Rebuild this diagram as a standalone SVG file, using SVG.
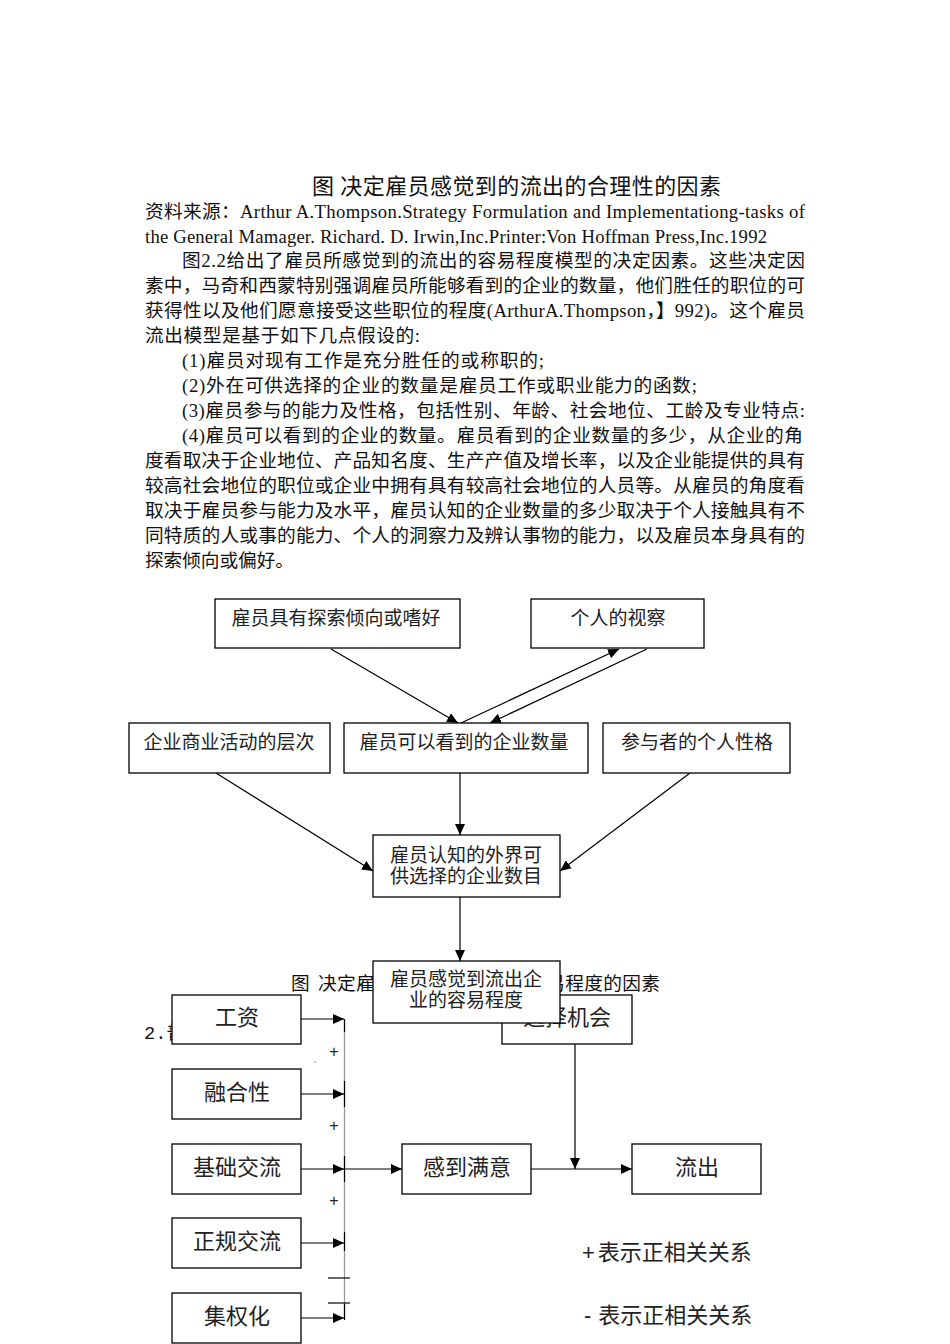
<svg xmlns="http://www.w3.org/2000/svg" width="950" height="1344" viewBox="0 0 950 1344">
<style>
.t{font-family:"Liberation Serif","Noto Sans CJK SC",serif;font-size:18.7px;fill:#111}
.title{font-family:"Liberation Serif","Noto Sans CJK SC",serif;font-size:22px;fill:#111}
.box{fill:#fff;stroke:#000;stroke-width:1.3}
.bt{font-family:"Liberation Sans","Noto Sans CJK SC",sans-serif;font-size:19px;fill:#222;text-anchor:middle}
.bt2{font-family:"Liberation Sans","Noto Sans CJK SC",sans-serif;font-size:22px;fill:#222;text-anchor:middle}
.ln{stroke:#000;stroke-width:1.2;fill:none}
.arr{marker-end:url(#ah)}
.sign{font-family:"Liberation Sans",sans-serif;font-size:16px;fill:#222;text-anchor:middle}
.leg{font-family:"Liberation Sans","Noto Sans CJK SC",sans-serif;font-size:22px;fill:#222}
</style>
<defs>
<marker id="ah" markerUnits="userSpaceOnUse" markerWidth="12" markerHeight="10" refX="11" refY="5" orient="auto">
<path d="M0,0 L11,5 L0,10 Z" fill="#000"/>
</marker>
</defs>
<rect width="950" height="1344" fill="#fff"/>

<g id="text-block">
<text class="title" x="312" y="194" textLength="409" lengthAdjust="spacing">图 决定雇员感觉到的流出的合理性的因素</text>
<text class="t" x="145" y="218" textLength="660" lengthAdjust="spacing">资料来源：Arthur A.Thompson.Strategy Formulation and Implementationg-tasks of</text>
<text class="t" x="145" y="243" textLength="622" lengthAdjust="spacing">the General Mamager. Richard. D. Irwin,Inc.Printer:Von Hoffman Press,Inc.1992</text>
<text class="t" x="182" y="267" textLength="623" lengthAdjust="spacing">图2.2给出了雇员所感觉到的流出的容易程度模型的决定因素。这些决定因</text>
<text class="t" x="145" y="292" textLength="660" lengthAdjust="spacing">素中，马奇和西蒙特别强调雇员所能够看到的企业的数量，他们胜任的职位的可</text>
<text class="t" x="145" y="317" textLength="660" lengthAdjust="spacing">获得性以及他们愿意接受这些职位的程度(ArthurA.Thompson，】992)。这个雇员</text>
<text class="t" x="145" y="342" textLength="275" lengthAdjust="spacing">流出模型是基于如下几点假设的:</text>
<text class="t" x="182" y="367" textLength="362" lengthAdjust="spacing">(1)雇员对现有工作是充分胜任的或称职的;</text>
<text class="t" x="182" y="392" textLength="515" lengthAdjust="spacing">(2)外在可供选择的企业的数量是雇员工作或职业能力的函数;</text>
<text class="t" x="182" y="417" textLength="623" lengthAdjust="spacing">(3)雇员参与的能力及性格，包括性别、年龄、社会地位、工龄及专业特点:</text>
<text class="t" x="182" y="442" textLength="621" lengthAdjust="spacing">(4)雇员可以看到的企业的数量。雇员看到的企业数量的多少，从企业的角</text>
<text class="t" x="145" y="467" textLength="660" lengthAdjust="spacing">度看取决于企业地位、产品知名度、生产产值及增长率，以及企业能提供的具有</text>
<text class="t" x="145" y="492" textLength="660" lengthAdjust="spacing">较高社会地位的职位或企业中拥有具有较高社会地位的人员等。从雇员的角度看</text>
<text class="t" x="145" y="517" textLength="660" lengthAdjust="spacing">取决于雇员参与能力及水平，雇员认知的企业数量的多少取决于个人接触具有不</text>
<text class="t" x="145" y="542" textLength="660" lengthAdjust="spacing">同特质的人或事的能力、个人的洞察力及辨认事物的能力，以及雇员本身具有的</text>
<text class="t" x="145" y="567" textLength="149" lengthAdjust="spacing">探索倾向或偏好。</text>
<text class="t" x="291" y="990">图</text>
<text class="t" x="318" y="990" textLength="342" lengthAdjust="spacing">决定雇员感觉到的流出的容易程度的因素</text>
<text class="t" x="144" y="1039" style="font-family:'Liberation Mono','Noto Sans CJK SC',monospace">2.普</text>
</g>

<g id="connectors">
<line class="ln arr" x1="331" y1="649" x2="458" y2="723"/>
<line class="ln arr" x1="461" y1="723" x2="619" y2="649"/>
<line class="ln arr" x1="647" y1="649" x2="490" y2="723"/>
<line class="ln arr" x1="216" y1="773" x2="373" y2="871"/>
<line class="ln arr" x1="460" y1="773" x2="460" y2="835"/>
<line class="ln arr" x1="690" y1="773" x2="560" y2="871"/>
<line class="ln arr" x1="460" y1="897" x2="460" y2="961"/>
<line x1="344.5" y1="1019" x2="344.5" y2="1319" stroke="#9a9a9a" stroke-width="1.3"/>
<line class="ln" x1="344.5" y1="1081" x2="344.5" y2="1107"/>
<line class="ln" x1="344.5" y1="1156" x2="344.5" y2="1182"/>
<line class="ln" x1="344.5" y1="1232" x2="344.5" y2="1251"/>
<line class="ln" x1="344.5" y1="1304" x2="344.5" y2="1320"/>
<line class="ln" x1="344.5" y1="1019" x2="344.5" y2="1032"/>
<line class="ln arr" x1="301" y1="1019" x2="344" y2="1019"/>
<line class="ln arr" x1="301" y1="1094" x2="344" y2="1094"/>
<line class="ln arr" x1="301" y1="1169" x2="344" y2="1169"/>
<line class="ln arr" x1="301" y1="1243" x2="344" y2="1243"/>
<line class="ln arr" x1="301" y1="1318" x2="344" y2="1318"/>
<line class="ln arr" x1="344" y1="1169" x2="402" y2="1169"/>
<line class="ln arr" x1="531" y1="1169" x2="632" y2="1169"/>
<line class="ln arr" x1="575" y1="1044" x2="575" y2="1169"/>
<line class="ln" x1="328" y1="1278" x2="350" y2="1278"/>
<line class="ln" x1="328" y1="1303" x2="350" y2="1303"/>
<text class="sign" x="334" y="1057">+</text>
<text class="sign" x="334" y="1131">+</text>
<text class="sign" x="334" y="1206">+</text>
<rect x="314.5" y="1061.5" width="1.2" height="1.2" fill="#666"/>
</g>

<g id="n-explore"><rect class="box" x="215" y="599" width="245" height="49"/><text class="bt" x="336" y="625">雇员具有探索倾向或嗜好</text></g>
<g id="n-insight"><rect class="box" x="531" y="599" width="173" height="49"/><text class="bt" x="618" y="625">个人的视察</text></g>
<g id="n-business"><rect class="box" x="129" y="723" width="201" height="50"/><text class="bt" x="229" y="749">企业商业活动的层次</text></g>
<g id="n-visible"><rect class="box" x="344" y="723" width="244" height="50"/><text class="bt" x="464" y="749">雇员可以看到的企业数量</text></g>
<g id="n-personality"><rect class="box" x="603" y="723" width="187" height="50"/><text class="bt" x="697" y="749">参与者的个人性格</text></g>
<g id="n-perceived"><rect class="box" x="373" y="835" width="187" height="62"/><text class="bt" x="466" y="862">雇员认知的外界可</text><text class="bt" x="466" y="883">供选择的企业数目</text></g>

<g id="n-wage"><rect class="box" x="172" y="995" width="129" height="49"/><text class="bt2" x="237" y="1025">工资</text></g>
<g id="n-integration"><rect class="box" x="172" y="1069" width="129" height="50"/><text class="bt2" x="237" y="1100">融合性</text></g>
<g id="n-basic"><rect class="box" x="172" y="1144" width="129" height="50"/><text class="bt2" x="237" y="1175">基础交流</text></g>
<g id="n-formal"><rect class="box" x="172" y="1218" width="129" height="50"/><text class="bt2" x="237" y="1249">正规交流</text></g>
<g id="n-central"><rect class="box" x="172" y="1293" width="129" height="50"/><text class="bt2" x="237" y="1324">集权化</text></g>
<g id="n-satisfied"><rect class="box" x="402" y="1144" width="129" height="50"/><text class="bt2" x="467" y="1175">感到满意</text></g>
<g id="n-outflow"><rect class="box" x="632" y="1144" width="129" height="50"/><text class="bt2" x="697" y="1175">流出</text></g>
<g id="n-choice"><rect class="box" x="502" y="995" width="130" height="49"/><text class="bt2" x="567" y="1025">选择机会</text></g>
<g id="n-ease"><rect class="box" x="373" y="961" width="187" height="62"/><text class="bt" x="466" y="986">雇员感觉到流出企</text><text class="bt" x="466" y="1007">业的容易程度</text></g>

<g id="legend">
<text class="leg" x="582" y="1260">+<tspan dx="3">表示正相关关系</tspan></text>
<text class="leg" x="584" y="1323">-<tspan dx="7">表示正相关关系</tspan></text>
</g>
</svg>
